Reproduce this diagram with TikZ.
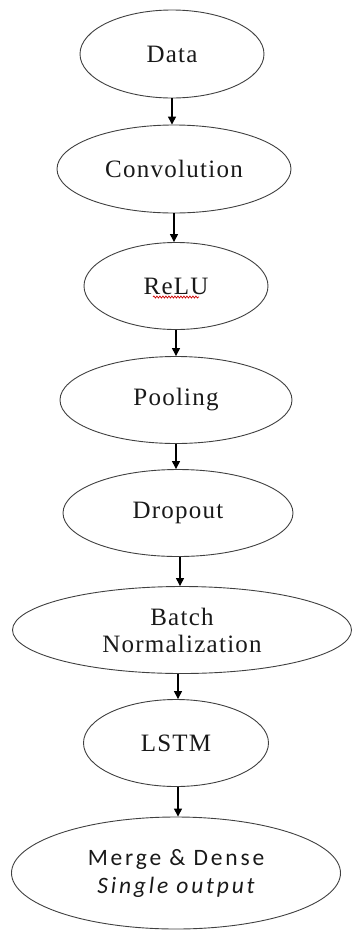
\documentclass[tikz,border=0pt]{standalone}
\usepackage{fontspec}
\setmainfont{Liberation Serif}
\newfontfamily\serfont{Liberation Serif}[LetterSpace=5]
\newfontfamily\carlfont{Carlito}[LetterSpace=12]
\usetikzlibrary{shapes.geometric,arrows.meta,decorations.pathmorphing}
\begin{document}
\begin{tikzpicture}[x=1pt,y=-1pt,
  blob/.style={ellipse,draw=black!75,line width=0.9pt,inner sep=0pt,align=center,
    text=black!90,font=\serfont\fontsize{25}{27}\selectfont},
  arr/.style={line width=1.3pt,-{Triangle[length=8pt,width=8pt]}}]
\useasboundingbox (0,0) rectangle (354,932);
\node[blob,minimum width=184,minimum height=88] (data) at (172,54) {Data};
\node[blob,minimum width=234,minimum height=88] (conv) at (174,169) {Convolution};
\node[blob,minimum width=184,minimum height=87] (relu) at (176,286) {ReLU};
\node[blob,minimum width=232,minimum height=87] (pool) at (176,400) {Pooling};
\node[blob,minimum width=230,minimum height=87] (drop) at (178,513) {Dropout};
\node[blob,minimum width=339,minimum height=87] (bn) at (182,630) {Batch\\Normalization};
\node[blob,minimum width=185,minimum height=87] (lstm) at (176,743) {LSTM};
\node[blob,minimum width=329,minimum height=112,font=\carlfont\fontsize{23.5}{28}\selectfont] (md) at (176,873) {Merge \& Dense\\\itshape Single output};
\draw[red!80!black,line width=0.7pt,decorate,decoration={snake,amplitude=1pt,segment length=3pt}]
  ([xshift=-23pt,yshift=-11pt]relu.center) coordinate (w1) -- ([xshift=23pt,yshift=-11pt]relu.center) coordinate (w2);
\draw[arr] (data.south) -- (data.south |- conv.north);
\draw[arr] (conv.south) -- (conv.south |- relu.north);
\draw[arr] (relu.south) -- (relu.south |- pool.north);
\draw[arr] (pool.south) -- (pool.south |- drop.north);
\draw[arr] ([xshift=2pt]drop.south) -- ([xshift=2pt]drop.south |- bn.north);
\draw[arr] ([xshift=-4pt]bn.south) -- ([xshift=-4pt]bn.south |- lstm.north);
\draw[arr] ([xshift=2pt]lstm.south) -- ([xshift=2pt]lstm.south |- md.north);
\end{tikzpicture}
\end{document}
